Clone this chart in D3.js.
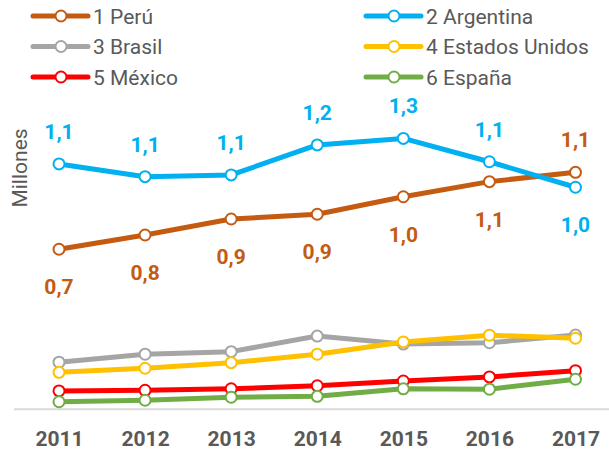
<!DOCTYPE html>
<html>
<head>
<meta charset="utf-8">
<script src="https://cdn.jsdelivr.net/npm/d3@7"></script>
<style>
  html, body { margin: 0; padding: 0; background: #fff; }
  svg { display: block; font-family: Roboto, "Noto Sans", sans-serif; }
</style>
</head>
<body>
<svg id="chart" width="609" height="450"></svg>
<script>
const years = ["2011", "2012", "2013", "2014", "2015", "2016", "2017"];
const seriesNames = ["1 Perú", "2 Argentina", "3 Brasil", "4 Estados Unidos", "5 México", "6 España"];
const peru      = [0.741, 0.807, 0.881, 0.903, 0.984, 1.054, 1.097];
const argentina = [1.136, 1.077, 1.085, 1.224, 1.254, 1.146, 1.028];
const brasil    = [0.218, 0.255, 0.267, 0.339, 0.302, 0.308, 0.344];
const eeuu      = [0.171, 0.190, 0.216, 0.255, 0.312, 0.343, 0.329];
const mexico    = [0.085, 0.088, 0.095, 0.109, 0.131, 0.150, 0.179];
const espana    = [0.035, 0.042, 0.056, 0.060, 0.095, 0.093, 0.139];
const seriesColors = ["#C55A11", "#00B0F0", "#A5A5A5", "#FFC000", "#FF0000", "#70AD47"];
const yAxisTitle = "Millones";

const allSeries = [peru, argentina, brasil, eeuu, mexico, espana];
const labelled = [0, 1]; // Perú and Argentina carry data labels

const svg = d3.select("#chart");
const x = d3.scalePoint().domain(years).range([59, 575.5]);
const y = d3.scaleLinear().domain([0, 1.4]).range([409.3, 409.3 - 1.4 * 216]);

// baseline axis
svg.append("line")
  .attr("x1", 14).attr("x2", 609)
  .attr("y1", y(0)).attr("y2", y(0))
  .attr("stroke", "#D9D9D9").attr("stroke-width", 2);

// x tick labels via axis
const xAxis = d3.axisBottom(x).tickSize(0).tickPadding(0);
const gx = svg.append("g").attr("transform", `translate(0, ${y(0)})`).call(xAxis);
gx.select(".domain").remove();
gx.selectAll("text")
  .attr("y", 36.5).attr("dy", null)
  .attr("font-family", "Roboto, sans-serif")
  .attr("font-size", 21).attr("font-weight", "bold")
  .attr("fill", "#595959");

// y-axis title
svg.append("text")
  .attr("transform", `translate(27, 168) rotate(-90)`)
  .attr("text-anchor", "middle")
  .attr("font-size", 21)
  .attr("fill", "#595959")
  .text(yAxisTitle);

const line = d3.line().x((d, i) => x(years[i])).y(d => y(d));

allSeries.forEach((vals, s) => {
  const g = svg.append("g");
  g.append("path")
    .datum(vals)
    .attr("d", line)
    .attr("fill", "none")
    .attr("stroke", seriesColors[s])
    .attr("stroke-width", 5)
    .attr("stroke-linejoin", "round")
    .attr("stroke-linecap", "round");
  g.selectAll("circle")
    .data(vals)
    .join("circle")
    .attr("cx", (d, i) => x(years[i]))
    .attr("cy", d => y(d))
    .attr("r", 5.5)
    .attr("fill", "#fff")
    .attr("stroke", seriesColors[s])
    .attr("stroke-width", 2);
});

// data labels for Perú & Argentina: placed on the side away from the other series
const fmt = v => d3.format(".1f")(v).replace(".", ",");
labelled.forEach((s) => {
  const other = allSeries[labelled.find(o => o !== s)];
  const vals = allSeries[s];
  svg.append("g").selectAll("text")
    .data(vals)
    .join("text")
    .attr("x", (d, i) => x(years[i]))
    .attr("y", (d, i) => d >= other[i] ? y(d) - 25 : y(d) + 45)
    .attr("text-anchor", "middle")
    .attr("font-size", 21)
    .attr("font-weight", "bold")
    .attr("fill", seriesColors[s])
    .text(d => fmt(d));
});

// legend
const legendCols = [33, 366];
const legendRows = [16, 46.5, 77];
seriesNames.forEach((name, s) => {
  const lx = legendCols[s % 2];
  const ly = legendRows[Math.floor(s / 2)];
  const g = svg.append("g").attr("transform", `translate(${lx}, ${ly})`);
  g.append("line")
    .attr("x1", 0).attr("x2", 55)
    .attr("y1", 0).attr("y2", 0)
    .attr("stroke", seriesColors[s])
    .attr("stroke-width", 5)
    .attr("stroke-linecap", "round");
  g.append("circle")
    .attr("cx", 28).attr("cy", 0).attr("r", 5.5)
    .attr("fill", "#fff")
    .attr("stroke", seriesColors[s])
    .attr("stroke-width", 2);
  g.append("text")
    .attr("x", 60).attr("y", 0).attr("dy", "0.36em")
    .attr("font-size", 21)
    .attr("fill", "#595959")
    .text(name);
});
</script>
</body>
</html>
